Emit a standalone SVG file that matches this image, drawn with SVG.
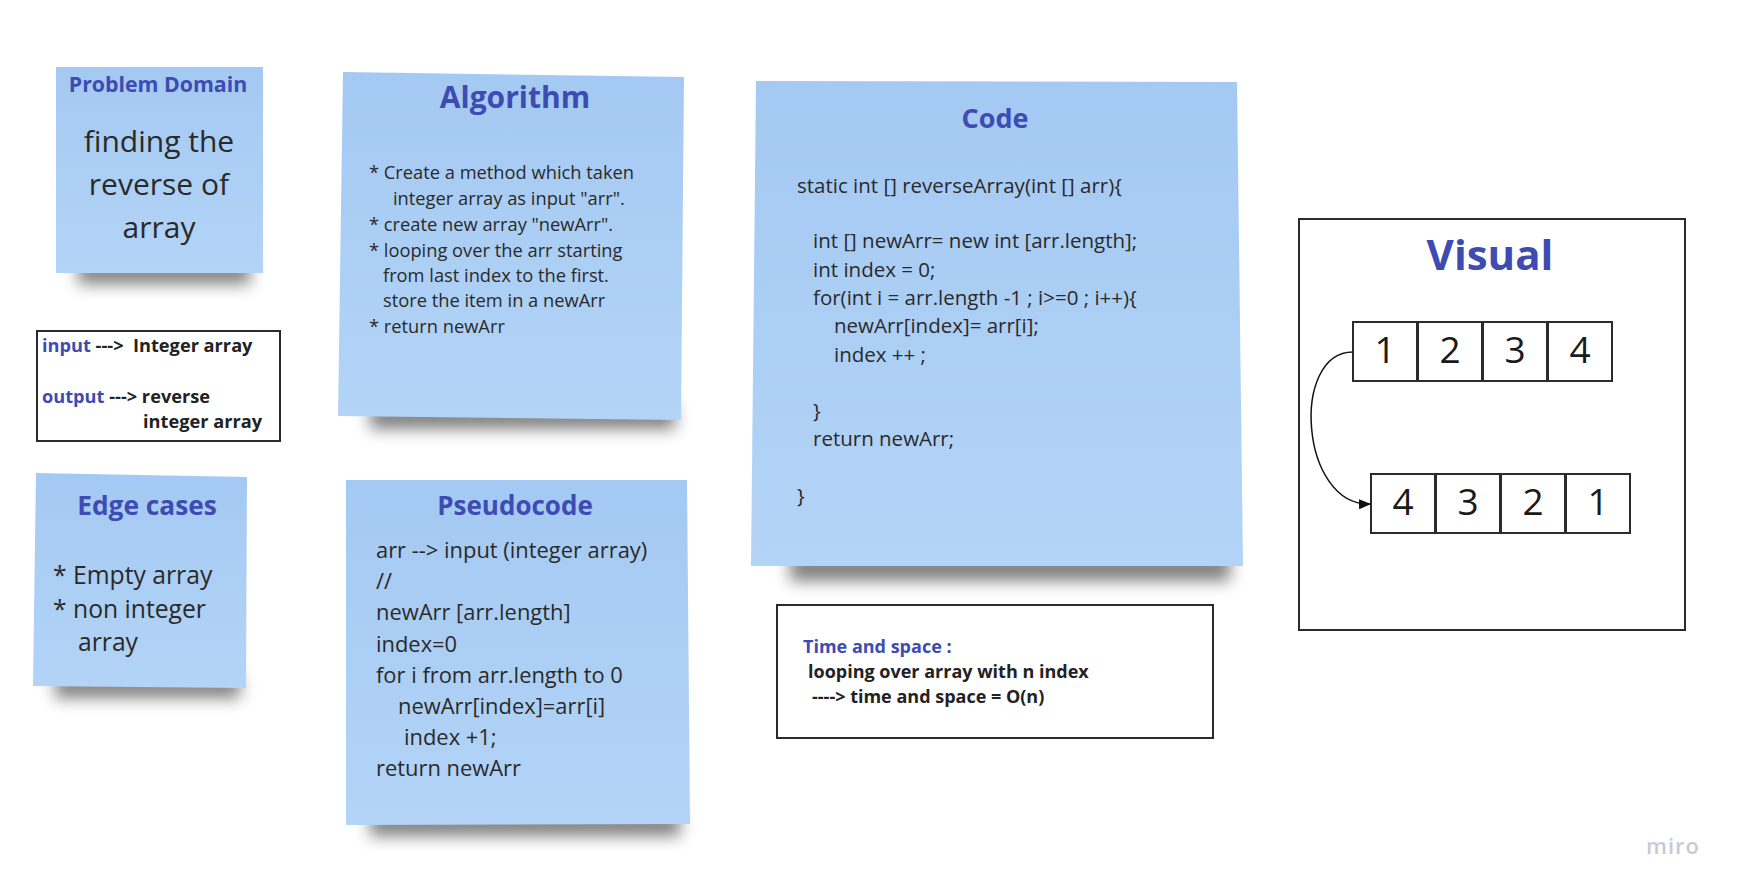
<svg xmlns="http://www.w3.org/2000/svg" width="1741" height="896" viewBox="0 0 1741 896">
<defs>
<linearGradient id="sticky" x1="0" y1="0" x2="0" y2="1">
<stop offset="0" stop-color="#a4c9f2"/>
<stop offset="1" stop-color="#b3d4f7"/>
</linearGradient>
<filter id="blur" x="-20%" y="-100%" width="140%" height="300%">
<feGaussianBlur stdDeviation="8"/>
</filter>
<marker id="arrow" viewBox="0 0 12 10" refX="11" refY="5" markerWidth="12" markerHeight="10" markerUnits="userSpaceOnUse" orient="auto">
<path d="M0,0 L12,5 L0,10 z" fill="#111"/>
</marker>
<style>
.note{fill:url(#sticky);}
.shadow{fill:#000;opacity:0.5;filter:url(#blur);}
.title{font-family:"Open Sans","Noto Sans",sans-serif;font-weight:700;fill:#3d4bb3;text-anchor:middle;}
.body{font-family:"Open Sans","Noto Sans",sans-serif;fill:#2a2a2a;}
.bold{font-family:"Open Sans","Noto Sans",sans-serif;font-weight:700;fill:#222;}
.blue{fill:#3d4bb3;}
.frame{fill:#fff;stroke:#2b2b2b;stroke-width:2;}
.cell{fill:#fff;stroke:#2b2b2b;stroke-width:2;}
.num{font-family:"Open Sans","Noto Sans",sans-serif;font-size:37px;fill:#1a1a1a;text-anchor:middle;}
</style>
</defs>
<rect width="1741" height="896" fill="#ffffff"/>

<g id="problem-domain">
<rect class="shadow" x="78" y="262" width="172" height="22"/>
<rect class="note" x="56" y="67" width="207" height="206"/>
<text class="title" x="158" y="92" font-size="21.3">Problem Domain</text>
<text class="body" x="159" y="152" font-size="30" text-anchor="middle">finding the</text>
<text class="body" x="159" y="195" font-size="30" text-anchor="middle">reverse of</text>
<text class="body" x="159" y="238" font-size="30" text-anchor="middle">array</text>
</g>

<g id="input-output">
<rect class="frame" x="37" y="331" width="243" height="110"/>
<text class="bold" x="42" y="352" font-size="18.2"><tspan class="blue">input</tspan> ---&gt;&#160; Integer array</text>
<text class="bold" x="42" y="403" font-size="18.2"><tspan class="blue">output</tspan> ---&gt; reverse</text>
<text class="bold" x="143" y="428" font-size="18.2">integer array</text>
</g>

<g id="edge-cases">
<rect class="shadow" x="55" y="676" width="185" height="22"/>
<polygon class="note" points="36,473 247,477 246,688 33,686"/>
<text class="title" x="147" y="515" font-size="26.3">Edge cases</text>
<text class="body" x="53" y="584" font-size="24.7">* Empty array</text>
<text class="body" x="53" y="618" font-size="24.7">* non integer</text>
<text class="body" x="78" y="651" font-size="24.7">array</text>
</g>

<g id="algorithm">
<rect class="shadow" x="370" y="405" width="305" height="24"/>
<polygon class="note" points="343,72 684,77 681,420 338,416"/>
<text class="title" x="515" y="108" font-size="30">Algorithm</text>
<g class="body" font-size="18.3">
<text x="369" y="179">* Create a method which taken</text>
<text x="393" y="205">integer array as input "arr".</text>
<text x="369" y="231">* create new array "newArr".</text>
<text x="369" y="257">* looping over the arr starting</text>
<text x="383" y="282">from last index to the first.</text>
<text x="383" y="307">store the item in a newArr</text>
<text x="369" y="333">* return newArr</text>
</g>
</g>

<g id="pseudocode">
<rect class="shadow" x="370" y="812" width="310" height="24"/>
<polygon class="note" points="346,480 687,480 690,824 346,825"/>
<text class="title" x="515" y="515" font-size="26">Pseudocode</text>
<g class="body" font-size="21.9">
<text x="376" y="558">arr --&gt; input (integer array)</text>
<text x="376" y="589">//</text>
<text x="376" y="620">newArr [arr.length]</text>
<text x="376" y="652">index=0</text>
<text x="376" y="683">for i from arr.length to 0</text>
<text x="398" y="714">newArr[index]=arr[i]</text>
<text x="404" y="745">index +1;</text>
<text x="376" y="776">return newArr</text>
</g>
</g>

<g id="code">
<rect class="shadow" x="790" y="555" width="440" height="26"/>
<polygon class="note" points="756,81 1237,82 1243,566 751,566"/>
<text class="title" x="995" y="128" font-size="27">Code</text>
<g class="body" font-size="20.5">
<text x="797" y="193">static int [] reverseArray(int [] arr){</text>
<text x="813" y="248">int [] newArr= new int [arr.length];</text>
<text x="813" y="277">int index = 0;</text>
<text x="813" y="305">for(int i = arr.length -1 ; i&gt;=0 ; i++){</text>
<text x="834" y="333">newArr[index]= arr[i];</text>
<text x="834" y="362">index ++ ;</text>
<text x="813" y="418">}</text>
<text x="813" y="446">return newArr;</text>
<text x="797" y="503">}</text>
</g>
</g>

<g id="time-space">
<rect class="frame" x="777" y="605" width="436" height="133"/>
<text class="bold" x="803" y="653" font-size="18" style="fill:#3d4bb3">Time and space :</text>
<text class="bold" x="808" y="678" font-size="18">looping over array with n index</text>
<text class="bold" x="812" y="703" font-size="18">----&gt; time and space = O(n)</text>
</g>

<g id="visual">
<rect class="frame" x="1299" y="219" width="386" height="411"/>
<text class="title" x="1490" y="270" font-size="42">Visual</text>
<g id="array-top">
<rect class="cell" x="1353" y="322" width="64" height="59"/>
<rect class="cell" x="1418" y="322" width="64" height="59"/>
<rect class="cell" x="1483" y="322" width="64" height="59"/>
<rect class="cell" x="1548" y="322" width="64" height="59"/>
<text class="num" x="1385" y="363">1</text>
<text class="num" x="1450" y="363">2</text>
<text class="num" x="1515" y="363">3</text>
<text class="num" x="1580" y="363">4</text>
</g>
<g id="array-bottom">
<rect class="cell" x="1371" y="474" width="64" height="59"/>
<rect class="cell" x="1436" y="474" width="64" height="59"/>
<rect class="cell" x="1501" y="474" width="64" height="59"/>
<rect class="cell" x="1566" y="474" width="64" height="59"/>
<text class="num" x="1403" y="515">4</text>
<text class="num" x="1468" y="515">3</text>
<text class="num" x="1533" y="515">2</text>
<text class="num" x="1598" y="515">1</text>
</g>
</g>

<g id="connectors">
<path d="M1353,352 C1290,352 1300,506 1370,504" fill="none" stroke="#111" stroke-width="1.5" marker-end="url(#arrow)"/>
</g>

<text x="1673" y="854" font-family="Open Sans, sans-serif" font-size="22" font-weight="600" fill="#c9c9d6" text-anchor="middle" letter-spacing="1">miro</text>
</svg>
